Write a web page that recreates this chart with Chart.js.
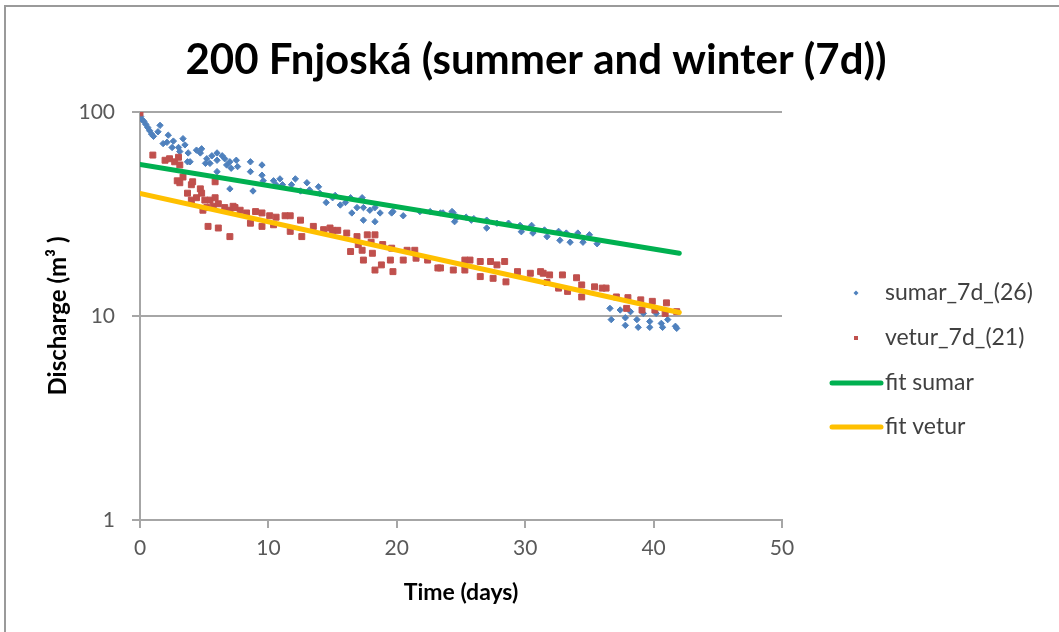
<!DOCTYPE html>
<html>
<head>
<meta charset="utf-8">
<script src="https://cdn.jsdelivr.net/npm/chart.js@4.4.1/dist/chart.umd.min.js"></script>
<style>
  html, body { margin: 0; padding: 0; background: #ffffff; overflow: hidden; }
  #frame { position: absolute; left: 4px; top: 5px; width: 1100px; height: 700px;
           border: 2px solid #9a9a9a; box-sizing: border-box; }
  #chart { position: absolute; left: 0; top: 0; }
</style>
</head>
<body>
<div id="frame"></div>
<canvas id="chart" width="1059" height="632"></canvas>
<script>
// Summer recession points (days since peak, discharge)
const sumarDays = [0.05,0.15,0.3,0.45,0.6,0.75,0.9,1.05,1.4,1.56,1.8,2.1,2.2,2.5,2.6,3.0,3.1,3.35,3.5,3.7,3.75,3.9,4.4,4.7,4.8,5.1,5.2,5.45,5.6,6.0,6.0,6.0,6.4,6.6,6.75,7.0,7.0,7.1,7.5,7.6,8.6,8.6,8.8,9.5,9.5,9.6,10.4,10.6,10.9,11.1,11.8,12.1,12.5,13.0,13.2,13.9,14.0,14.5,15.0,15.2,15.6,16.0,16.4,16.5,16.9,17.3,17.4,17.4,17.9,18.3,18.3,18.7,19.6,19.7,20.5,21.8,22.6,23.4,23.6,24.3,24.4,24.5,24.7,25.4,25.8,26.0,27.0,27.0,27.8,28.7,29.6,29.7,30.5,30.6,31.5,31.7,32.6,32.7,33.2,33.5,34.1,34.5,35.0,35.6,36.6,36.7,37.4,37.8,37.8,38.2,38.7,38.8,39.2,39.7,39.7,40.2,40.6,40.7,41.1,41.7,41.8];
const sumarQ = [95,92,90,87,84,81,78,76,80,86,70,71,77,67,72,67,64,74,69,57,63,57,65,63,66,56,59,56,61,63,58,51,61,59,55,57,42,53,58,54,57,51,41,55,49,46,46,44,47,44,44,47,41,45,41.5,43,40,36,38,39,35,36,38,32,34,38,34,29.5,33,34,29,32,32,32.5,31,32.5,32.5,32,32,32.5,32,29,30.5,30.5,29.5,30,29.5,27,28.5,28.5,27.8,25.9,27.8,25.5,26.4,24.5,26,23.5,25.5,23,25.5,23,25,22.6,10.9,9.6,10.7,9.8,9.0,10.5,9.6,8.8,10.3,9.4,8.8,10.3,9.2,8.8,9.6,8.9,8.7];

// Winter recession points
const veturDays = [0,1.0,1.95,2.3,2.7,2.9,3.0,3.1,3.1,3.35,3.7,4.0,4.0,4.1,4.4,4.7,4.8,4.9,5.05,5.2,5.3,5.45,5.7,5.85,5.85,6.1,6.1,6.6,7.0,7.0,7.25,7.4,7.8,8.3,8.6,9.0,9.5,9.5,10.1,10.4,10.6,11.3,11.7,11.7,12.5,12.6,13.5,14.3,14.8,15.0,15.4,16.1,16.4,16.9,17.0,17.3,17.4,17.7,18.0,18.1,18.3,18.3,18.8,18.9,19.5,19.6,19.7,20.5,20.8,21.4,21.5,22.4,23.2,23.4,24.4,25.3,25.3,25.7,26.5,26.5,27.3,27.5,27.8,28.4,28.5,29.4,30.4,31.2,31.4,31.7,31.9,32.6,32.9,33.3,34.0,34.4,34.4,35.4,36.0,36.3,37.1,37.9,38.0,39.0,39.1,39.9,40.1,40.9,41.0,41.8];
const veturQ = [99,61.5,58,59,57,46,60,55,45,48,40,44,37,45.5,38,42,40,33,37,34,27.5,37,34.5,38,45.5,35.5,27,34,33,24.5,34.5,34,33,32,28.5,32.5,32,27.5,31,28,30.5,31,31,26,29.5,24.5,27.5,26.5,27,26.3,26.3,25.5,20.7,24.5,22.4,21,18.8,25,23,20.3,25,16.8,17.8,22.4,18.8,21.5,16.5,18.8,21,21,19.2,18.8,17.2,17.2,16.8,18.8,16.8,18.8,18.5,15.6,18.5,15.3,17.8,18.5,14.7,16.5,16.2,16.5,16.2,14.6,15.9,13.7,15.9,13.2,15.4,14.2,12.4,13.9,13.7,13.7,12.4,10.9,12.3,12,10.7,11.8,10.7,10.3,11.6,10.5];

// Exponential fits (end points of each fitted recession line)
const fitDays = [0, 42];
const fitSumarQ = [55.3, 20.3];
const fitVeturQ = [39.9, 10.4];

// Axis ticks
const xTickValues = [0, 10, 20, 30, 40, 50];
const yTickValues = [1, 10, 100];

const chartTitle = '200 Fnjoská (summer and winter (7d))';

const toPoints = (xs, ys) => xs.map((x, i) => ({ x: x, y: ys[i] }));

const GRID = '#a6a6a6';
const TICK_COLOR = '#595959';

// Title centred over the whole chart box, and legend at the right of the plot
const titleAndLegend = {
  id: 'titleAndLegend',
  afterDraw(chart) {
    const ctx = chart.ctx;
    ctx.save();
    ctx.fillStyle = '#000000';
    ctx.font = 'bold 42px Lato';
    ctx.textAlign = 'center';
    ctx.textBaseline = 'alphabetic';
    ctx.fillText(chartTitle, 536, 74);

    const rowY = [293, 338, 383, 427];
    chart.data.datasets.forEach((ds, i) => {
      const y = rowY[i];
      if (ds.showLine) {
        ctx.strokeStyle = ds.borderColor;
        ctx.lineWidth = 5;
        ctx.lineCap = 'round';
        ctx.beginPath();
        ctx.moveTo(832, y);
        ctx.lineTo(881, y);
        ctx.stroke();
      } else {
        ctx.fillStyle = ds.backgroundColor;
        ctx.beginPath();
        if (ds.pointStyle === 'rectRot') {
          ctx.moveTo(856, y - 2.5); ctx.lineTo(858.5, y); ctx.lineTo(856, y + 2.5); ctx.lineTo(853.5, y);
        } else {
          ctx.rect(854, y - 2, 4, 4);
        }
        ctx.closePath();
        ctx.fill();
      }
      ctx.fillStyle = '#404040';
      ctx.font = '23px Lato';
      ctx.textAlign = 'left';
      ctx.textBaseline = 'middle';
      ctx.fillText(ds.label, 885, y);
    });
    ctx.restore();
  }
};

new Chart(document.getElementById('chart'), {
  type: 'scatter',
  data: {
    datasets: [
      {
        label: 'sumar_7d_(26)',
        data: toPoints(sumarDays, sumarQ),
        pointStyle: 'rectRot',
        pointRadius: 3.2,
        backgroundColor: '#4f81bd',
        borderColor: '#4f81bd',
        borderWidth: 1,
        showLine: false,
        order: 3
      },
      {
        label: 'vetur_7d_(21)',
        data: toPoints(veturDays, veturQ),
        pointStyle: 'rect',
        pointRadius: 4.2,
        backgroundColor: '#c0504d',
        borderColor: '#c0504d',
        borderWidth: 1,
        showLine: false,
        order: 2
      },
      {
        label: 'fit sumar',
        data: toPoints(fitDays, fitSumarQ),
        showLine: true,
        borderColor: '#00b050',
        borderWidth: 5,
        borderCapStyle: 'round',
        pointRadius: 0,
        order: 1
      },
      {
        label: 'fit vetur',
        data: toPoints(fitDays, fitVeturQ),
        showLine: true,
        borderColor: '#ffc000',
        borderWidth: 5,
        borderCapStyle: 'round',
        pointRadius: 0,
        order: 0
      }
    ]
  },
  options: {
    responsive: false,
    animation: false,
    devicePixelRatio: 1,
    layout: { padding: { left: 20, right: 277, top: 112, bottom: 0 } },
    plugins: {
      legend: { display: false },
      tooltip: { enabled: false },
      title: { display: false }
    },
    scales: {
      x: {
        type: 'linear',
        min: 0,
        max: 50,
        afterBuildTicks: (scale) => { scale.ticks = xTickValues.map(v => ({ value: v })); },
        afterFit: (scale) => { scale.height = 112; },
        grid: { drawOnChartArea: false, drawTicks: true, tickLength: 8, color: GRID, lineWidth: 2 },
        border: { display: true, color: GRID, width: 2 },
        ticks: { color: TICK_COLOR, font: { family: 'Lato', size: 21 }, padding: 8, maxRotation: 0 },
        title: {
          display: true,
          text: 'Time (days)',
          color: '#000000',
          font: { family: 'Lato', size: 23, weight: 'bold' },
          padding: { top: 0, bottom: 26 }
        }
      },
      y: {
        type: 'logarithmic',
        min: 1,
        max: 100,
        afterBuildTicks: (scale) => { scale.ticks = yTickValues.map(v => ({ value: v })); },
        afterFit: (scale) => { scale.width = 120; },
        grid: { drawOnChartArea: true, drawTicks: true, tickLength: 8, color: GRID, lineWidth: 2 },
        border: { display: true, color: GRID, width: 2 },
        ticks: {
          color: TICK_COLOR,
          font: { family: 'Lato', size: 21 },
          padding: 17,
          callback: (v) => String(v)
        },
        title: {
          display: true,
          text: 'Discharge (m³ )',
          color: '#000000',
          font: { family: 'Lato', size: 24, weight: 'bold' },
          padding: { top: 24, bottom: 0 }
        }
      }
    }
  },
  plugins: [titleAndLegend]
});
</script>
</body>
</html>
